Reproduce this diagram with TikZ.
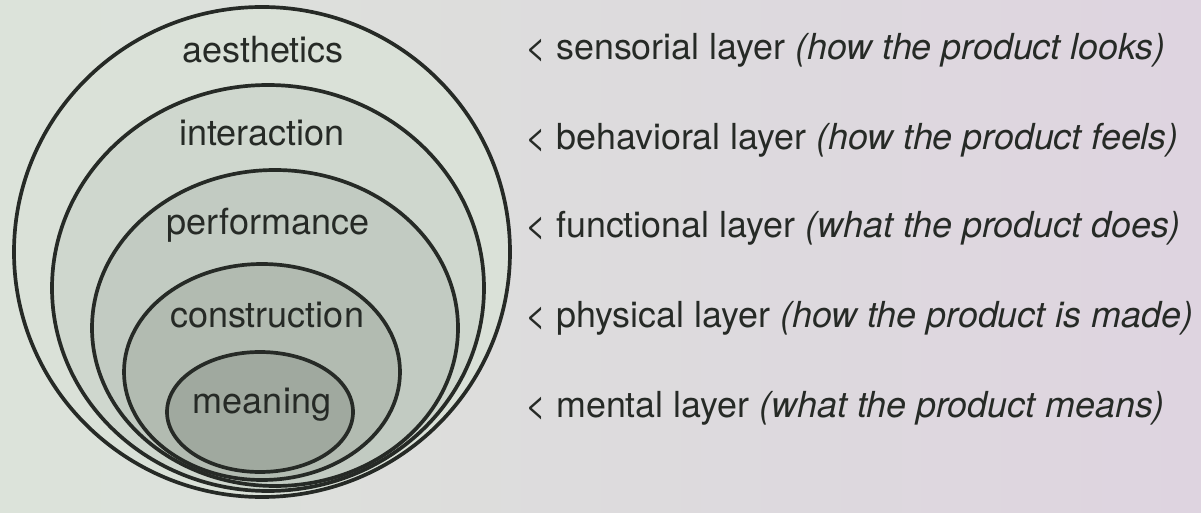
\documentclass[tikz,border=0pt]{standalone}
\usepackage{fontspec}
\setmainfont{TeX Gyre Heros}
\usepackage{tikz}
\usetikzlibrary{positioning}
\definecolor{Page}{HTML}{DCE3DA}
\definecolor{PageR}{HTML}{DED4E0}
\definecolor{Ring1}{HTML}{DAE1D8}
\definecolor{Ring2}{HTML}{CFD7CE}
\definecolor{Ring3}{HTML}{C2CBC2}
\definecolor{Ring4}{HTML}{B2BBB1}
\definecolor{Ring5}{HTML}{A0A99F}
\definecolor{Ink}{HTML}{262A26}
\tikzset{
  ring/.style={draw=Ink, line width=2.1pt},
  ringlabel/.style={font=\fontsize{20.5}{24}\selectfont, text=Ink, inner sep=0pt},
  layerlabel/.style={font=\fontsize{20.4}{24}\selectfont, text=Ink, inner sep=0pt, anchor=west},
}

\begin{document}
\begin{tikzpicture}[x=0.02cm,y=-0.02cm]
\useasboundingbox (0,0) rectangle (1201,513);
\shade[left color=Page,right color=PageR] (0,0) rectangle (1201,513);

% nested layers, outer first
\foreach \cx/\cy/\rx/\ry/\col in {262/252/248/245/Ring1,268/288/216/203/Ring2,275/328/183/158/Ring3,262/372/138/108/Ring4,260/412/93/60/Ring5}{
  \filldraw[ring,fill=\col] (\cx,\cy) ellipse [x radius=\rx, y radius=\ry];
}

% layer names
\node[ringlabel] (aes) at (263,50) {aesthetics};
\node[ringlabel] (inter) at (262,133) {interaction};
\node[ringlabel] (perf) at (268,225) {performance};
\node[ringlabel] (cons) at (267,315) {construction};
\node[ringlabel] (mean) at (262,405) {meaning};

% descriptions
\foreach \y/\nm/\lay/\how in {50/sens/sensorial/{how the product looks},140/behav/behavioral/{how the product feels},228/func/functional/{what the product does},318/phys/physical/{how the product is made},408/ment/mental/{what the product means}}{
  \node[layerlabel] (\nm) at (525,\y) {< \lay{} layer \textit{(\how)}};
}
\end{tikzpicture}
\end{document}
